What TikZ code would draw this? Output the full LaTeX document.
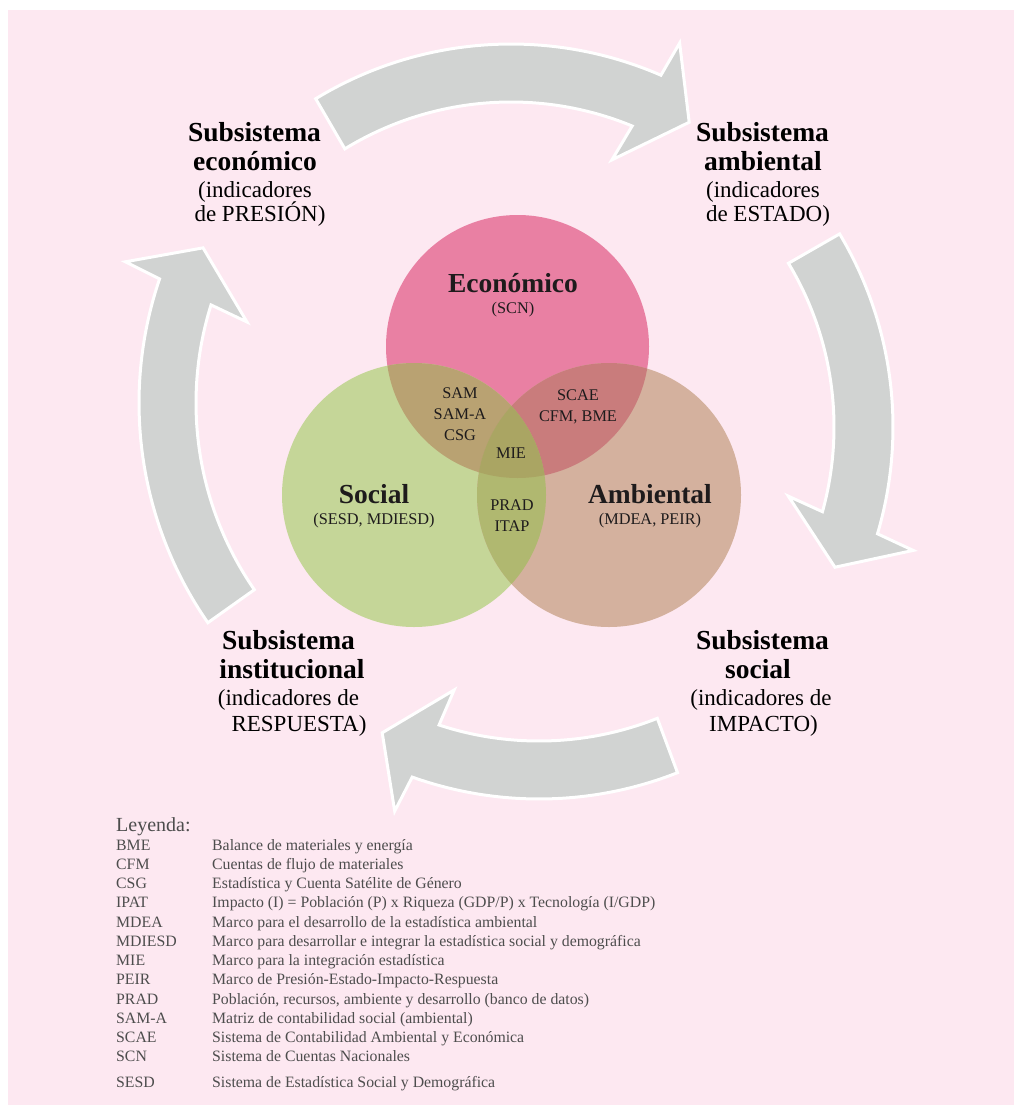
\documentclass[tikz,border=0pt]{standalone}
\usepackage{fontspec}
\setmainfont{Liberation Serif}
\definecolor{bgpink}{RGB}{253,232,241}
\definecolor{arrowgray}{RGB}{209,211,210}
\definecolor{ceco}{RGB}{233,128,163}
\definecolor{csoc}{RGB}{197,214,152}
\definecolor{camb}{RGB}{212,177,158}
\definecolor{ces}{RGB}{185,162,114}
\definecolor{cea}{RGB}{201,124,124}
\definecolor{csa}{RGB}{176,184,112}
\definecolor{cesa}{RGB}{170,165,99}
\definecolor{txt}{RGB}{30,27,28}
\definecolor{legtxt}{RGB}{77,77,77}
\begin{document}
\begin{tikzpicture}[x=1pt,y=-1pt,
  cyclearrow/.style={fill=arrowgray, draw=white, line width=3pt, line join=miter},
  headb/.style={anchor=base, font=\fontsize{27.5}{30}\selectfont\bfseries, text=black, inner sep=0pt},
  headr/.style={anchor=base, font=\fontsize{23}{25}\selectfont, text=black, inner sep=0pt},
  vennb/.style={anchor=base, font=\fontsize{27.5}{30}\selectfont\bfseries, text=txt, inner sep=0pt},
  vennr/.style={anchor=base, font=\fontsize{16.3}{18}\selectfont, text=txt, inner sep=0pt},
  legtitle/.style={anchor=base west, font=\fontsize{20}{22}\selectfont, text=legtxt, inner sep=0pt},
  legitem/.style={anchor=base west, font=\fontsize{15.8}{18}\selectfont, text=legtxt, inner sep=0pt}
  ]
\useasboundingbox (0,0) rectangle (1014,1105);
\fill[white] (0,0) rectangle (1014,1105);
\fill[bgpink] (8,10) rectangle (1014,1105);

% cycle arrows
\begin{scope}[shift={(511,420)}, yscale=-1]
\draw[cyclearrow] (121.3:376) arc[start angle=121.3, end angle=66.5, radius=376]
  -- (65.9:413) -- (59.1:347) -- (68.8:279) -- (67.6:318)
  arc[start angle=67.6, end angle=121.5, radius=318] -- cycle;
\end{scope}
\begin{scope}[shift={(517,427)}, yscale=-1]
\draw[cyclearrow] (30.9:376) arc[start angle=30.9, end angle=-16.5, radius=376]
  -- (-17.3:415) -- (-23.8:347.5) -- (-14.3:280) -- (-15.5:317)
  arc[start angle=-15.5, end angle=31.1, radius=317] -- cycle;
\end{scope}
\begin{scope}[shift={(539,421)}, yscale=-1]
\draw[cyclearrow] (-68.5:378) arc[start angle=-68.5, end angle=-109.6, radius=378]
  -- (-110.3:416) -- (-116.7:349) -- (-107.5:282) -- (-108.2:320)
  arc[start angle=-108.2, end angle=-68.3, radius=320] -- cycle;
\end{scope}
\begin{scope}[shift={(524,403)}, yscale=-1]
\draw[cyclearrow] (214.8:385) arc[start angle=214.8, end angle=161.2, radius=385]
  -- (160.5:423) -- (154.2:356.5) -- (163.7:288.6) -- (162.6:328)
  arc[start angle=162.6, end angle=214.7, radius=328] -- cycle;
\end{scope}

% Venn circles
\fill[ceco] (517.5,346.5) circle[radius=131.5];
\fill[csoc] (414,495) circle[radius=132];
\fill[camb] (609,495) circle[radius=132];
\begin{scope}
  \clip (517.5,346.5) circle[radius=131.5];
  \fill[ces] (414,495) circle[radius=132];
  \fill[cea] (609,495) circle[radius=132];
\end{scope}
\begin{scope}
  \clip (414,495) circle[radius=132];
  \fill[csa] (609,495) circle[radius=132];
\end{scope}
\begin{scope}
  \clip (517.5,346.5) circle[radius=131.5];
  \clip (414,495) circle[radius=132];
  \fill[cesa] (609,495) circle[radius=132];
\end{scope}

% Venn labels
\node[vennb] (eco) at (513,292) {Económico};
\node[vennr] (scn) at (513,313) {(SCN)};
\node[vennb] (soc) at (374,503) {Social};
\node[vennr] (sesd) at (374,524) {(SESD, MDIESD)};
\node[vennb] (amb) at (650,503) {Ambiental};
\node[vennr] (mdea) at (650,524) {(MDEA, PEIR)};
\node[vennr] (sam) at (460,398.5) {SAM};
\node[vennr] (sama) at (460,419.5) {SAM-A};
\node[vennr] (csg) at (460,440) {CSG};
\node[vennr] (scae) at (578,400.5) {SCAE};
\node[vennr] (cfm) at (578,421) {CFM, BME};
\node[vennr] (mie) at (511,458.5) {MIE};
\node[vennr] (prad) at (512,510) {PRAD};
\node[vennr] (itap) at (512,531) {ITAP};

% subsystem headings
\node[headb] (ecoA) at (254.5,142) {Subsistema};
\node[headb] (ecoB) at (255,170) {económico};
\node[headr] (ecoC) at (255,197) {(indicadores};
\node[headr] (ecoD) at (260,221) {de PRESIÓN)};

\node[headb] (ambA) at (762.5,142) {Subsistema};
\node[headb] (ambB) at (763,170) {ambiental};
\node[headr] (ambC) at (763,197) {(indicadores};
\node[headr] (ambD) at (768,221) {de ESTADO)};

\node[headb] (insA) at (288.5,649) {Subsistema};
\node[headb] (insB) at (292,678) {institucional};
\node[headr] (insC) at (288.5,705) {(indicadores de};
\node[headr] (insD) at (299,731) {RESPUESTA)};

\node[headb] (socA) at (762.5,649) {Subsistema};
\node[headb] (socB) at (758,678) {social};
\node[headr] (socC) at (761,705) {(indicadores de};
\node[headr] (socD) at (763.5,731) {IMPACTO)};

% legend
\node[legtitle] (leg) at (116,831.5) {Leyenda:};
\node[legitem] (l1a) at (116,850) {BME};
\node[legitem] (l1b) at (212,850) {Balance de materiales y energía};
\node[legitem] (l2a) at (116,869) {CFM};
\node[legitem] (l2b) at (212,869) {Cuentas de flujo de materiales};
\node[legitem] (l3a) at (116,888) {CSG};
\node[legitem] (l3b) at (212,888) {Estadística y Cuenta Satélite de Género};
\node[legitem] (l4a) at (116,907) {IPAT};
\node[legitem] (l4b) at (212,907) {Impacto (I) = Población (P) x Riqueza (GDP/P) x Tecnología (I/GDP)};
\node[legitem] (l5a) at (116,927) {MDEA};
\node[legitem] (l5b) at (212,927) {Marco para el desarrollo de la estadística ambiental};
\node[legitem] (l6a) at (116,946) {MDIESD};
\node[legitem] (l6b) at (212,946) {Marco para desarrollar e integrar la estadística social y demográfica};
\node[legitem] (l7a) at (116,965) {MIE};
\node[legitem] (l7b) at (212,965) {Marco para la integración estadística};
\node[legitem] (l8a) at (116,984) {PEIR};
\node[legitem] (l8b) at (212,984) {Marco de Presión-Estado-Impacto-Respuesta};
\node[legitem] (l9a) at (116,1004) {PRAD};
\node[legitem] (l9b) at (212,1004) {Población, recursos, ambiente y desarrollo (banco de datos)};
\node[legitem] (l10a) at (116,1023) {SAM-A};
\node[legitem] (l10b) at (212,1023) {Matriz de contabilidad social (ambiental)};
\node[legitem] (l11a) at (116,1042) {SCAE};
\node[legitem] (l11b) at (212,1042) {Sistema de Contabilidad Ambiental y Económica};
\node[legitem] (l12a) at (116,1061) {SCN};
\node[legitem] (l12b) at (212,1061) {Sistema de Cuentas Nacionales};
\node[legitem] (l13a) at (116,1087) {SESD};
\node[legitem] (l13b) at (212,1087) {Sistema de Estadística Social y Demográfica};
\end{tikzpicture}
\end{document}
